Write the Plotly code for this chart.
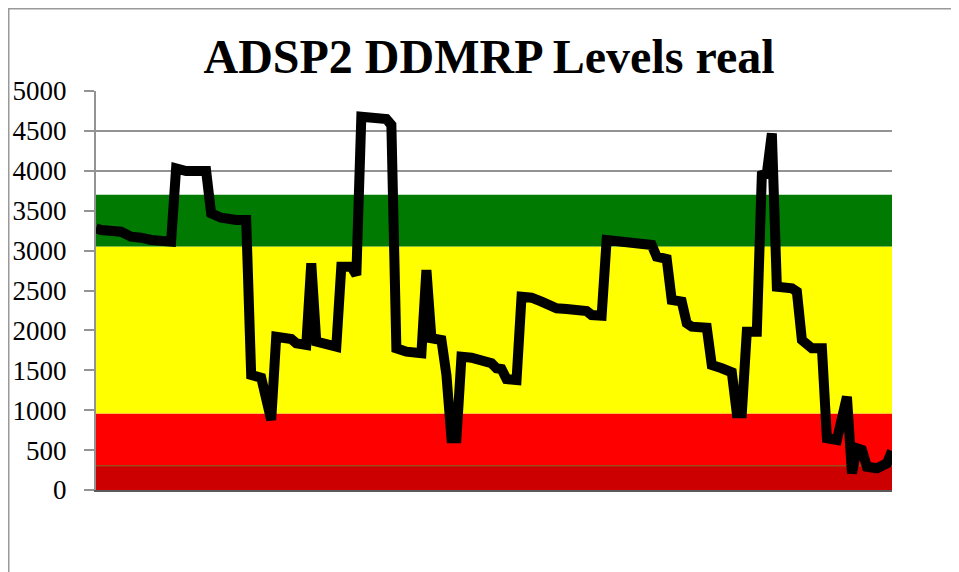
import plotly.graph_objects as go

# Category (day) index of each vertex of the inventory line, and its value
days = [0, 1, 5, 7, 9, 11, 15, 16, 18, 22, 23, 25, 28, 30, 31, 33, 35, 36, 39, 40,
        42, 43, 44, 46, 48, 49, 51, 52, 53, 58, 59, 60, 62, 65, 66, 67, 69, 70, 71, 72,
        73, 75, 77, 79, 80, 81, 82, 84, 85, 87, 89, 92, 94, 96, 98, 99, 101, 102, 105, 107,
        111, 112, 114, 115, 117, 118, 119, 122, 123, 125, 127, 128, 129, 130, 132, 133, 134, 135, 136, 139,
        140, 141, 142, 143, 145, 146, 148, 150, 151, 152, 153, 154, 156, 158, 159]
levels = [3279, 3258, 3237, 3174, 3162, 3133, 3112, 4031, 3997, 3997, 3467, 3412, 3383, 3383, 1441, 1407, 877, 1921, 1892, 1838,
          1817, 2840, 1859, 1838, 1796, 2798, 2798, 2694, 4678, 4649, 4574, 1776, 1733, 1713, 2757, 1901, 1880, 1441, 648, 648,
          1671, 1658, 1608, 1588, 1525, 1516, 1391, 1378, 2422, 2410, 2360, 2277, 2268, 2256, 2243, 2193, 2184, 3133, 3112, 3070,
          3070, 2924, 2895, 2381, 2360, 2089, 2047, 2034, 1566, 1525, 1475, 961, 961, 1984, 1984, 3947, 3968, 4470, 2548, 2527,
          2485, 1880, 1838, 1776, 1776, 648, 627, 1169, 209, 522, 501, 292, 272, 334, 489]

# Buffer zones (stacked thickness of each zone)
zone_days = [0, 159]
zone_names = ["Red base", "Red safety", "Yellow", "Green"]
zone_sizes = [305, 655, 2090, 650]
zone_colors = ["#CC0000", "#FF0000", "#FFFF00", "#007A00"]
zone_lines = ["#9C4A1A", "#FF0000", "#FFFF00", "#007A00"]

y_ticks = [0, 500, 1000, 1500, 2000, 2500, 3000, 3500, 4000, 4500, 5000]

fig = go.Figure()
for name, size, col, lcol in zip(zone_names, zone_sizes, zone_colors, zone_lines):
    fig.add_trace(go.Scatter(
        x=zone_days, y=[size] * len(zone_days), name=name, mode="lines",
        stackgroup="zones", fillcolor=col,
        line=dict(color=lcol, width=1.5 if name == "Red base" else 0),
        hoverinfo="skip", showlegend=False))

fig.add_trace(go.Scatter(
    x=days, y=levels, mode="lines", name="Real level",
    line=dict(color="black", width=10), showlegend=False))

W, H = 959, 572
L, R, T, B = 88, 884, 83, 482

fig.update_layout(
    width=W, height=H,
    margin=dict(l=L, r=W - R, t=T, b=H - B, pad=0, autoexpand=False),
    paper_bgcolor="white", plot_bgcolor="white",
    title=dict(text="<b>ADSP2 DDMRP Levels real</b>",
               font=dict(family="Liberation Serif", size=48, color="black"),
               x=481 / W, xanchor="center", xref="container",
               y=1 - 48 / H, yanchor="middle", yref="container"),
    xaxis=dict(range=[0, 159], showticklabels=False, showgrid=False, zeroline=False,
               showline=True, linecolor="#5a5a5a", linewidth=2, ticks="", automargin=False),
    yaxis=dict(range=[0, 5000], tickvals=y_ticks, ticktext=[str(v) for v in y_ticks],
               showgrid=True, gridcolor="#939393", gridwidth=1.5, automargin=False,
               zeroline=False, showline=True, linecolor="#939393", linewidth=2,
               ticks="outside", ticklen=10, tickcolor="#939393", tickwidth=1.5,
               ticklabelstandoff=12,
               tickfont=dict(family="Liberation Serif", size=27, color="black")),
    shapes=[dict(type="rect", xref="paper", yref="paper",
                 x0=(0.75 - L) / (R - L), x1=(990 - L) / (R - L),
                 y0=(B - 620) / (B - T), y1=(B - 0.75) / (B - T),
                 line=dict(color="#999999", width=1.5), fillcolor="rgba(0,0,0,0)",
                 layer="below")],
)

fig.write_html("out.html")
